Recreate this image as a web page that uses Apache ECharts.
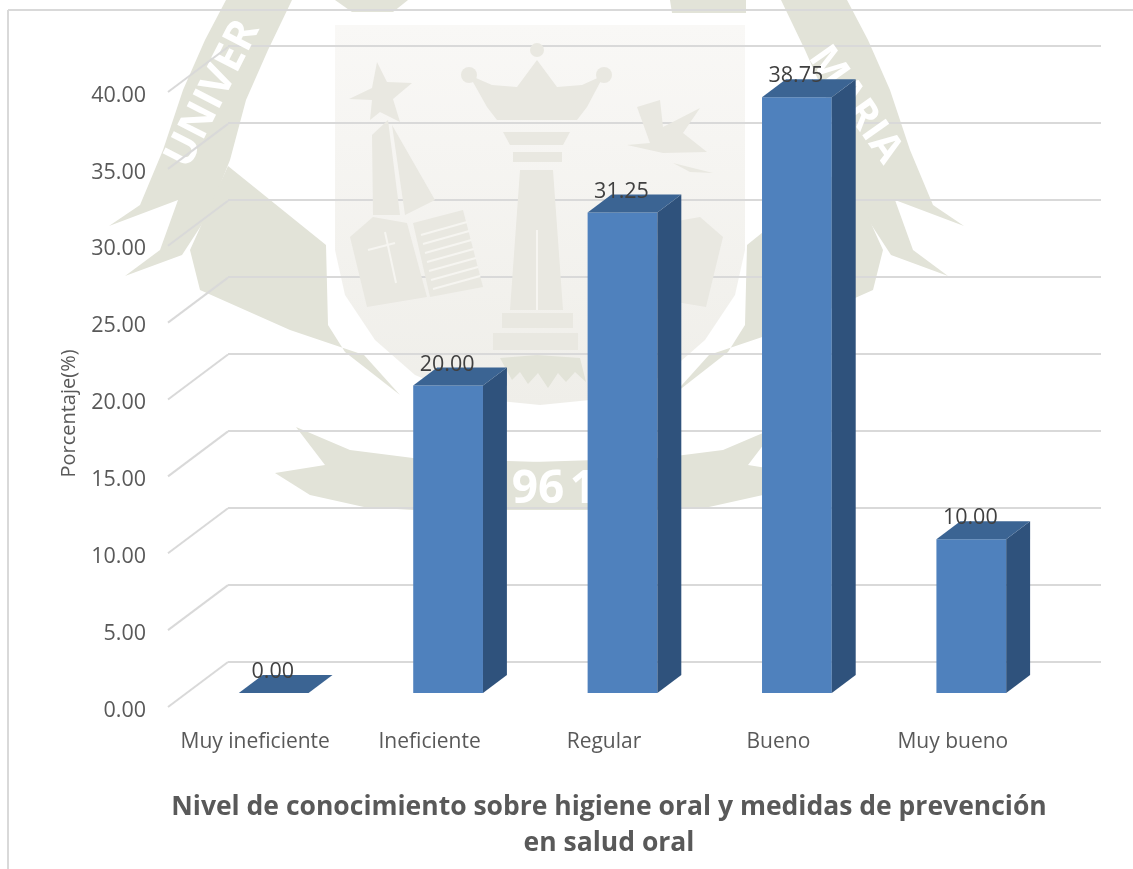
<!DOCTYPE html>
<html>
<head>
<meta charset="utf-8">
<style>html,body{margin:0;padding:0;background:#fff}#c{width:1133px;height:869px}</style>
<script src="https://cdn.jsdelivr.net/npm/echarts@6/dist/echarts.min.js"></script>
</head>
<body>
<div id="c"></div>
<script>
const categories = ['Muy ineficiente', 'Ineficiente', 'Regular', 'Bueno', 'Muy bueno'];
const porcentajes = [0.00, 20.00, 31.25, 38.75, 10.00];
const valueTicks = [0, 5, 10, 15, 20, 25, 30, 35, 40];
const yAxisTitle = 'Porcentaje(%)';
const xAxisTitle = 'Nivel de conocimiento sobre higiene oral y medidas de prevención\nen salud oral';

const FONT = '"Open Sans", "Noto Sans", sans-serif';
const W_DARK = '#e2e3d8', W_MID = '#e9e8e1';
const W_SHIELD = { type: 'linear', x: 0, y: 0, x2: 0, y2: 1, colorStops: [{ offset: 0, color: '#f9f8f6' }, { offset: 1, color: '#efeee9' }] };

function mirror(pts){ return pts.map(p => [1073 - p[0], p[1]]); }
const shield = [[335,25],[745,25],[745,250],[735,295],[705,340],[665,375],[610,398],[540,405],[470,398],[415,375],[375,340],[345,295],[335,250]];
const ribbonL = [[226,0],[292,0],[268,50],[246,100],[230,160],[208,215],[182,255],[125,276],[160,250],[178,200],[109,226],[140,205],[163,150],[183,90],[205,40]];
const wingL = [[228,166],[326,245],[328,325],[345,352],[400,395],[364,355],[290,330],[200,290],[190,250]];
const tailL = [[296,427],[350,450],[413,458],[540,462],[540,510],[413,510],[364,507],[310,495],[275,473],[325,465]];
const star = [[377,62],[387,82],[412,83],[393,99],[400,122],[380,112],[370,120],[372,100],[349,99],[372,88]];
const spireA = [[372,135],[388,120],[400,215],[373,215]];
const spireB = [[392,125],[435,200],[405,215]];
const crown = [[537,60],[557,87],[582,85],[604,75],[587,107],[577,120],[497,120],[487,107],[469,75],[492,85],[517,87]];
const capitalA = [[503,132],[570,132],[563,145],[510,145]];
const capitalB = [[513,152],[562,152],[562,162],[513,162]];
const shaft = [[520,170],[553,170],[563,310],[510,310]];
const baseA = [[502,313],[573,313],[573,328],[502,328]];
const baseB = [[493,333],[578,333],[578,350],[493,350]];
const pageA = [[350,237],[373,217],[407,223],[427,297],[367,307]];
const pageB = [[413,223],[463,210],[483,287],[430,297]];
const bird = [[637,107],[660,100],[663,127],[700,108],[683,133],[707,152],[663,153],[627,145],[650,143]];
const birdTail = [[673,163],[713,173],[690,172]];
const teeth = [[500,358],[537,355],[580,358],[586,382],[575,372],[566,382],[558,373],[548,388],[538,373],[528,384],[520,372],[512,380]];

const poly = (pts, fill, z) => ({ type: 'polygon', silent: true, z: z || 0, shape: { points: pts }, style: { fill } });
const dot = (cx, cy, r) => ({ type: 'circle', silent: true, z: 1, shape: { cx, cy, r }, style: { fill: W_MID } });
const wl = (x1, y1, x2, y2, c) => ({ type: 'line', silent: true, z: 2, shape: { x1, y1, x2, y2 }, style: { stroke: c || '#f6f5f1', lineWidth: 2 } });
const wmText = (t, x, y, deg, size, fill) => ({ type: 'text', silent: true, z: 2, x, y, rotation: deg * Math.PI / 180,
  style: { text: t, font: 'bold ' + size + 'px ' + FONT, fill: fill || '#ffffff', align: 'center', verticalAlign: 'middle' } });

const pageLines = [0, 1, 2, 3, 4, 5, 6].map(i => wl(421 + i * 2, 235 + i * 9, 467 + i * 2.2, 222 + i * 9));
const watermark = [
  poly(shield, W_SHIELD),
  poly(ribbonL, W_DARK), poly(mirror(ribbonL), W_DARK),
  poly(wingL, W_DARK), poly(mirror(wingL), W_DARK),
  poly(tailL, W_DARK), poly(mirror(tailL), W_DARK),
  poly([[335,0],[408,0],[393,12],[352,12]], W_DARK), poly([[670,0],[746,0],[746,13],[672,13]], W_DARK),
  poly(star, W_MID, 1), poly(spireA, W_MID, 1), poly(spireB, W_MID, 1),
  poly(crown, W_MID, 1), dot(537, 50, 7), dot(469, 75, 8), dot(604, 75, 8),
  poly(capitalA, W_MID, 1), poly(capitalB, W_MID, 1), poly(shaft, W_MID, 1), poly(baseA, W_MID, 1), poly(baseB, W_MID, 1),
  wl(537, 230, 537, 310),
  poly(pageA, W_MID, 1), poly(pageB, W_MID, 1), poly(mirror(pageA), W_MID, 1), poly(mirror(pageB), W_MID, 1),
  wl(385, 232, 396, 283, '#f6f5f1'), wl(368, 250, 395, 243, '#f6f5f1'),
  poly(bird, W_MID, 1), poly(birdTail, W_MID, 1),
  poly(teeth, W_DARK, 1),
  wmText('UNIVER', 213, 94, 63, 42), wmText('MARIA', 855, 105, -55, 40),
  wmText('96', 538, 490, 0, 46), wmText('1', 583, 490, 0, 46)
].concat(pageLines);
const frame = [
  { type: 'line', silent: true, z: 3, shape: { x1: 8, y1: 10, x2: 8, y2: 869 }, style: { stroke: '#d9d9d9', lineWidth: 2 } },
  { type: 'line', silent: true, z: 3, shape: { x1: 8, y1: 10, x2: 1133, y2: 10 }, style: { stroke: '#d9d9d9', lineWidth: 2 } }
];

function renderBar(params, api) {
  const p = api.coord([api.value(0), api.value(1)]);
  const base = api.coord([api.value(0), 0]);
  const w = api.size([1, 0])[0] * 0.4;
  const dx = w * 0.343, dy = w * 0.257;
  const l = p[0] - w / 2, r = p[0] + w / 2, t = p[1], b = base[1];
  const children = [];
  if (b - t > 0.5) {
    children.push({ type: 'rect', shape: { x: l, y: t, width: w, height: b - t }, style: { fill: '#4f81bd' } });
    children.push({ type: 'polygon', shape: { points: [[r, t], [r + dx, t - dy], [r + dx, b - dy], [r, b]] }, style: { fill: '#2f527c' } });
  }
  children.push({ type: 'polygon', shape: { points: [[l, t], [r, t], [r + dx, t - dy], [l + dx, t - dy]] }, style: { fill: '#3b6493' } });
  children.push({ type: 'text', z2: 10, x: p[0] - 1, y: t - 21,
    style: { text: api.value(1).toFixed(2), font: '21.5px ' + FONT, fill: '#404040', align: 'center', verticalAlign: 'middle' } });
  return { type: 'group', children };
}
function renderSideLine(params, api) {
  const p = api.coord([0, api.value(0)]);
  const x = p[0] - api.size([1, 0])[0] / 2;
  const y = p[1] - 3.5;
  return { type: 'line', shape: { x1: x, y1: y, x2: x + 60, y2: y - 45 }, style: { stroke: '#d9d9d9', lineWidth: 2 } };
}

const hiddenCat = g => ({ type: 'category', gridIndex: g, data: categories, show: false });
const hiddenVal = (g, split) => ({ type: 'value', gridIndex: g, min: 0, max: 40, interval: 5,
  axisLine: { show: false }, axisTick: { show: false }, axisLabel: { show: false },
  splitLine: { show: split, lineStyle: { color: '#d9d9d9', width: 2 } } });

const chart = echarts.init(document.getElementById('c'), null, { renderer: 'canvas' });
chart.setOption({
  animation: false,
  backgroundColor: '#ffffff',
  graphic: { elements: watermark.concat(frame) },
  title: { text: xAxisTitle, left: 604, top: 784, textAlign: 'center',
    textStyle: { fontFamily: FONT, fontWeight: 'bold', fontSize: 26.5, lineHeight: 36, color: '#595959' } },
  grid: [
    { left: 168, width: 872, top: 95.5, height: 615 },
    { left: 228, width: 873, top: 46, height: 616 },
    { left: 186.5, width: 872, top: 78, height: 615 }
  ],
  xAxis: [
    { type: 'category', gridIndex: 0, data: categories,
      axisLine: { show: false }, axisTick: { show: false },
      axisLabel: { color: '#595959', fontFamily: FONT, fontSize: 21, margin: 21.5, interval: 0 } },
    hiddenCat(1), hiddenCat(2)
  ],
  yAxis: [
    { type: 'value', gridIndex: 0, min: 0, max: 40, interval: 5,
      name: yAxisTitle, nameLocation: 'middle', nameGap: 89, nameRotate: 90,
      nameTextStyle: { color: '#595959', fontFamily: FONT, fontSize: 20, padding: [0, 21, 0, 0] },
      axisLine: { show: false }, axisTick: { show: false }, splitLine: { show: false },
      axisLabel: { color: '#595959', fontFamily: FONT, fontSize: 21.5, margin: 22, formatter: v => v.toFixed(2) } },
    hiddenVal(1, true), hiddenVal(2, false)
  ],
  series: [
    { type: 'custom', xAxisIndex: 0, yAxisIndex: 0, z: 3, silent: true, renderItem: renderSideLine,
      data: valueTicks.map(v => [v]), encode: { y: 0 } },
    { type: 'custom', name: 'Porcentaje', xAxisIndex: 2, yAxisIndex: 2, z: 5, silent: true, renderItem: renderBar,
      data: porcentajes.map((v, i) => [i, v]), encode: { x: 0, y: 1 } }
  ]
});
</script>
</body>
</html>
